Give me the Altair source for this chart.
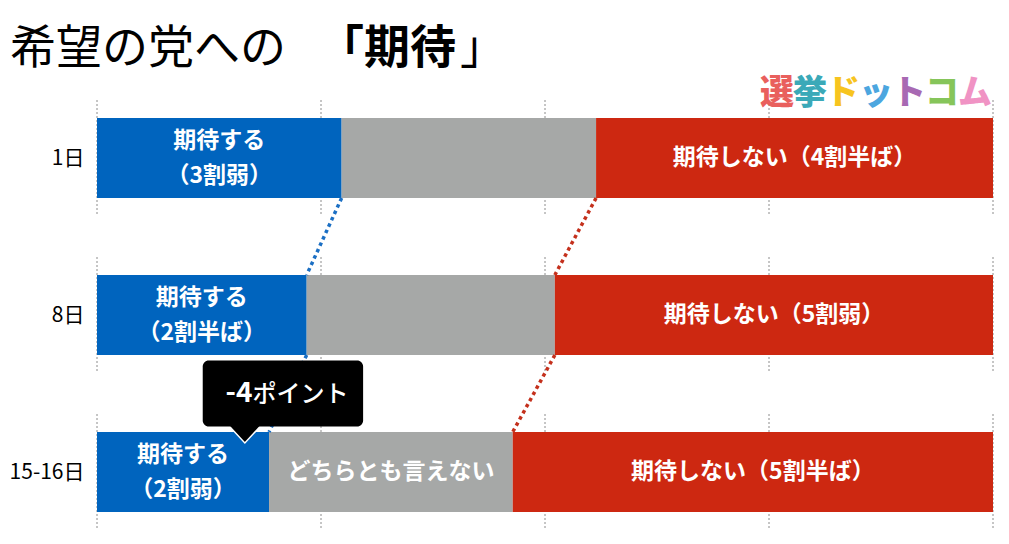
import json
import altair as alt
import pandas as pd

# ---------------- data ----------------
dates = ["1日", "8日", "15-16日"]
cats = ["期待する", "どちらとも言えない", "期待しない"]
expect = [27.3, 23.4, 19.2]
neutral = [28.4, 27.7, 27.2]
not_expect = [44.3, 48.9, 53.6]
expect_share = ["（3割弱）", "（2割半ば）", "（2割弱）"]
not_share = ["（4割半ば）", "（5割弱）", "（5割半ば）"]
neutral_shown = [False, False, True]
grid_ticks = [0, 25, 50, 75, 100]
cat_colors = ["#0064be", "#a6a8a7", "#cd2811"]

title_parts = ["希望の党への", "「期待", "」"]
title_bold = [False, True, False]
logo_chars = ["選", "挙", "ド", "ッ", "ト", "コ", "ム"]
logo_colors = ["#e9605d", "#3ba9b8", "#f7c41f", "#4ca6df", "#a869b3", "#86c55a", "#f093c4"]
callout_text = ["-4", "ポイント"]
callout_x = [11.8, 29.7]      # box extent (percent axis)
callout_split = 17.35         # where "-4" meets "ポイント"
callout_tip_x = 16.5

# ---------------- layout ----------------
FONT = "Noto Sans CJK JP"
W, H = 896, 528
PAD_L = 89
ROW_PX = 157
ROW0_PX = 150
BAR_HALF = 40 / ROW_PX
GRID_HALF = 58 / ROW_PX
y_lo = -ROW0_PX / ROW_PX
y_hi = y_lo + H / ROW_PX
CALLOUT_Y = 1.5
CALLOUT_HALF = 33 / ROW_PX
TIP_Y = (423.5 - ROW0_PX) / ROW_PX
LABEL_FS = 23
LINE_H = 35

xs = alt.Scale(domain=[0, 100], nice=False, zero=False)
ys = alt.Scale(domain=[y_lo, y_hi], reverse=True, nice=False, zero=False)

# ---------------- tables ----------------
seg = []
for r in range(len(dates)):
    vals = [expect[r], neutral[r], not_expect[r]]
    start = 0.0
    for c, v in zip(cats, vals):
        seg.append(dict(row=r, cat=c, x0=start, x1=start + v,
                        y0=r - BAR_HALF, y1=r + BAR_HALF))
        start += v
seg = pd.DataFrame(seg)

lab2 = pd.DataFrame([dict(x=expect[r] / 2, y=r, t=cats[0] + "\n" + expect_share[r])
                     for r in range(len(dates))])
lab1 = []
for r in range(len(dates)):
    if neutral_shown[r]:
        lab1.append(dict(x=expect[r] + neutral[r] / 2, y=r, t=cats[1]))
    lab1.append(dict(x=expect[r] + neutral[r] + not_expect[r] / 2, y=r, t=cats[2] + not_share[r]))
lab1 = pd.DataFrame(lab1)

grid = pd.DataFrame([dict(x=g, y0=r - GRID_HALF, y1=r + GRID_HALF)
                     for r in range(len(dates)) for g in grid_ticks])

blue_conn = pd.DataFrame([dict(x=expect[r], x2=expect[r + 1],
                               y=r + BAR_HALF, y2=r + 1 - BAR_HALF)
                          for r in range(len(dates) - 1)])
red_conn = pd.DataFrame([dict(x=expect[r] + neutral[r], x2=expect[r + 1] + neutral[r + 1],
                              y=r + BAR_HALF, y2=r + 1 - BAR_HALF)
                         for r in range(len(dates) - 1)])

box = pd.DataFrame([dict(x=callout_x[0], x2=callout_x[1],
                         y=CALLOUT_Y - CALLOUT_HALF, y2=CALLOUT_Y + CALLOUT_HALF)])
tip = pd.DataFrame([dict(x=callout_tip_x, y=TIP_Y)])
ctext = pd.DataFrame([dict(x=callout_split, y=CALLOUT_Y, a=callout_text[0], b=callout_text[1])])

# ---------------- layers ----------------
grid_l = alt.Chart(grid).mark_rule(color="#8c8c8c", strokeWidth=1, strokeDash=[2, 2]).encode(
    x=alt.X("x:Q", scale=xs, axis=None),
    y=alt.Y("y0:Q", scale=ys),
    y2="y1:Q",
)

bars = alt.Chart(seg).mark_rect().encode(
    x=alt.X("x0:Q", scale=xs, axis=None),
    x2="x1:Q",
    y=alt.Y("y0:Q", scale=ys, axis=alt.Axis(
        values=[0, 1, 2],
        labelExpr=f"{json.dumps(dates, ensure_ascii=False)}[datum.value]",
        title=None, ticks=False, domain=False, grid=False,
        labelFont=FONT, labelFontSize=21, labelColor="#000000", labelPadding=13,
    )),
    y2="y1:Q",
    color=alt.Color("cat:N", scale=alt.Scale(domain=cats, range=cat_colors), legend=None),
)

labels2 = alt.Chart(lab2).mark_text(
    font=FONT, fontSize=LABEL_FS, fontWeight="bold", color="white",
    lineBreak="\n", lineHeight=LINE_H, baseline="middle", align="center", dy=-LINE_H / 2,
).encode(x=alt.X("x:Q", scale=xs), y=alt.Y("y:Q", scale=ys), text="t:N")

labels1 = alt.Chart(lab1).mark_text(
    font=FONT, fontSize=LABEL_FS, fontWeight="bold", color="white",
    baseline="middle", align="center",
).encode(x=alt.X("x:Q", scale=xs), y=alt.Y("y:Q", scale=ys), text="t:N")

conn_b = alt.Chart(blue_conn).mark_rule(color="#1b6fc4", strokeWidth=3.5, strokeDash=[3.5, 3.5]).encode(
    x=alt.X("x:Q", scale=xs), x2="x2:Q", y=alt.Y("y:Q", scale=ys), y2="y2:Q")
conn_r = alt.Chart(red_conn).mark_rule(color="#c4301c", strokeWidth=3.5, strokeDash=[3.5, 3.5]).encode(
    x=alt.X("x:Q", scale=xs), x2="x2:Q", y=alt.Y("y:Q", scale=ys), y2="y2:Q")

tip_l = alt.Chart(tip).mark_point(
    shape="M-1.2,-0.65L1.2,-0.65L0,0.65Z", size=1253, filled=True,
    fill="black", stroke="white", strokeWidth=1.5, opacity=1,
).encode(x=alt.X("x:Q", scale=xs), y=alt.Y("y:Q", scale=ys))

box_l = alt.Chart(box).mark_rect(color="black", cornerRadius=6).encode(
    x=alt.X("x:Q", scale=xs), x2="x2:Q", y=alt.Y("y:Q", scale=ys), y2="y2:Q")

ct_a = alt.Chart(ctext).mark_text(font=FONT, fontSize=28, fontWeight="bold", color="white",
                                  align="right", baseline="middle").encode(
    x=alt.X("x:Q", scale=xs), y=alt.Y("y:Q", scale=ys), text="a:N")
ct_b = alt.Chart(ctext).mark_text(font=FONT, fontSize=24, fontWeight=500, color="white",
                                  align="left", baseline="middle", dy=1).encode(
    x=alt.X("x:Q", scale=xs), y=alt.Y("y:Q", scale=ys), text="b:N")

# title (plain text marks)
title_layers = []
TITLE_X = [-87, 221, 363]     # plot-pixel x of each title run
TITLE_Y = 41
for part, bold, tx in zip(title_parts, title_bold, TITLE_X):
    title_layers.append(
        alt.Chart(pd.DataFrame([{"t": part}])).mark_text(
            font=FONT, fontSize=46, fontWeight="bold" if bold else "normal",
            color="#000000", align="left", baseline="middle",
        ).encode(x=alt.value(tx), y=alt.value(TITLE_Y), text="t:N")
    )

# logo
logo_layers = []
LOGO_X0, LOGO_PITCH, LOGO_Y = 663, 33, 86
for i, (ch, col) in enumerate(zip(logo_chars, logo_colors)):
    logo_layers.append(
        alt.Chart(pd.DataFrame([{"t": ch}])).mark_text(
            font=FONT, fontSize=34, fontWeight=900, color=col,
            align="left", baseline="middle",
        ).encode(x=alt.value(LOGO_X0 + LOGO_PITCH * i), y=alt.value(LOGO_Y), text="t:N")
    )

chart = alt.layer(
    grid_l, bars, labels2, labels1, conn_b, conn_r, tip_l, box_l, ct_a, ct_b,
    *title_layers, *logo_layers,
).properties(
    width=W, height=H,
    autosize=alt.AutoSizeParams(type="none"),
    padding={"left": PAD_L, "top": 0, "right": 8, "bottom": 0},
    background="white",
).configure_view(stroke=None)

chart.save("out.html", embed_options={"renderer": "svg", "actions": False})
